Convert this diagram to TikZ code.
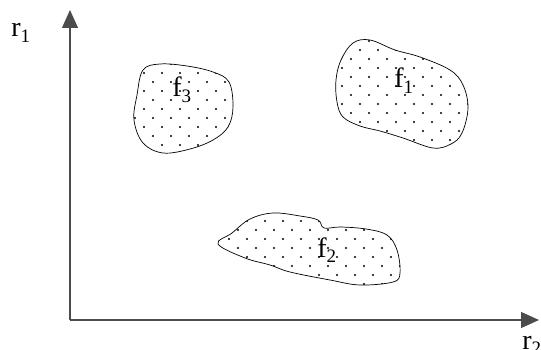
\documentclass[tikz,border=0pt]{standalone}
\usepackage{fontspec}
\setmainfont{Liberation Serif}
\usetikzlibrary{arrows.meta}
\newcommand{\idx}[2]{#1\raisebox{-0.2em}{\fontsize{19}{19}\selectfont #2}}

\begin{document}
\begin{tikzpicture}[x=1pt,y=-1pt,line width=0.8pt,>={Triangle[length=18pt,width=16pt]},
  lbl/.style={inner sep=0pt,font=\fontsize{28}{30}\selectfont},
  axis/.style={->,draw=black!70,line width=1.1pt},
  blob/.style={draw=black,line width=0.7pt}]
  \useasboundingbox (0,0) rectangle (541,350);
  % ejes
  \coordinate (o) at (70,320);
  \coordinate (ytop) at (70,10);
  \coordinate (xend) at (539,320);
  \draw[axis] (o)--(ytop);
  \draw[axis] (o)--(xend);
  \node[lbl,anchor=base west] (r1) at (11,37) {\idx{r}{1}};
  \node[lbl,anchor=base west] (r2) at (522,349) {\idx{r}{2}};
  % regiones punteadas
  \def\fthree{(143,70) (160,64) (187,66) (213,72) (229,82) (233,107) (228,127) (213,140) (190,149) (163,153) (143,143) (134,120) (137,95)}
  \def\fone{(370,40) (353,43) (341,60) (336,80) (337,102) (343,117) (360,126) (380,131) (403,138) (433,148) (451,144) (462,133) (468,108) (463,85) (450,70) (420,57) (395,50)}
  \def\ftwo{(218,244) (232,233) (250,219) (273,213) (300,216) (318,220) (324,228) (340,227) (366,229) (387,235) (397,250) (400,273) (393,282) (360,285) (330,280) (290,272) (270,265) (245,258)}
  \begin{scope}
    \clip plot[smooth cycle,tension=0.6] coordinates {\fthree};
    \foreach \x in {135,153,...,235} \foreach \y in {64,82,...,158}
      \fill (\x,\y) circle(1.2) (\x+9,\y+9) circle(1.2);
  \end{scope}
  \begin{scope}
    \clip plot[smooth cycle,tension=0.6] coordinates {\fone};
    \foreach \x in {324,342,...,470} \foreach \y in {32,50,...,158}
      \fill (\x,\y) circle(1.2) (\x+9,\y+9) circle(1.2);
  \end{scope}
  \begin{scope}
    \clip plot[smooth cycle,tension=0.6] coordinates {\ftwo};
    \foreach \x in {211,229,...,405} \foreach \y in {203,221,...,293}
      \fill (\x,\y) circle(1.2) (\x+9,\y+9) circle(1.2);
  \end{scope}
  \draw[blob] plot[smooth cycle,tension=0.6] coordinates {\fthree};
  \draw[blob] plot[smooth cycle,tension=0.6] coordinates {\fone};
  \draw[blob] plot[smooth cycle,tension=0.6] coordinates {\ftwo};
  \node[lbl,anchor=base west] (f3) at (172,97) {\idx{f}{3}};
  \node[lbl,anchor=base west] (f1) at (394,88) {\idx{f}{1}};
  \node[lbl,anchor=base west] (f2) at (317,257) {\idx{f}{2}};
\end{tikzpicture}
\end{document}
